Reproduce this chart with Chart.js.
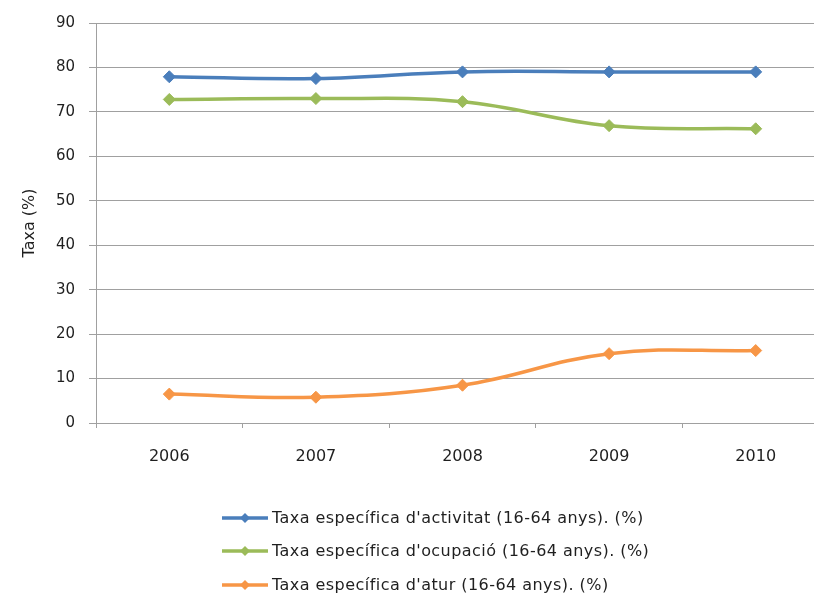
<!DOCTYPE html>
<html>
<head>
<meta charset="utf-8">
<script src="https://cdn.jsdelivr.net/npm/chart.js@4/dist/chart.umd.min.js"></script>
<style>
  html, body { margin: 0; padding: 0; background: #fff; overflow: hidden; }
  #wrap { position: relative; width: 836px; height: 601px; }
</style>
</head>
<body>
<div id="wrap"><canvas id="c" width="836" height="601"></canvas></div>
<script>
const categories = ['2006', '2007', '2008', '2009', '2010'];
const activitat = [77.9, 77.5, 79.0, 79.0, 79.0];
const ocupacio = [72.8, 73.0, 72.3, 66.9, 66.2];
const atur = [6.5, 5.8, 8.5, 15.6, 16.3];
const seriesNames = [
  "Taxa específica d'activitat (16-64 anys). (%)",
  "Taxa específica d'ocupació (16-64 anys). (%)",
  "Taxa específica d'atur (16-64 anys). (%)"
];
const yTicks = [0, 10, 20, 30, 40, 50, 60, 70, 80, 90];
const yTitle = 'Taxa (%)';

const colors = ['#4A7EBB', '#9BBB59', '#F79646'];
const FONT = "'DejaVu Sans', sans-serif";
const TXT = '#1f1f1f';
const GRID = '#a0a0a0';

function ds(label, data, color) {
  return {
    label, data,
    borderColor: color, backgroundColor: color,
    borderWidth: 3.5,
    pointStyle: 'rectRot', pointRadius: 6, pointHoverRadius: 6,
    pointBorderWidth: 1,
    tension: 0.4,
    fill: false
  };
}

const legendPlugin = {
  id: 'vlegend',
  afterDraw(chart) {
    const ctx = chart.ctx;
    const rows = [518, 551, 585];
    const x0 = 222, x1 = 268, tx = 272;
    ctx.save();
    chart.data.datasets.forEach((d, i) => {
      const y = rows[i];
      ctx.strokeStyle = d.borderColor;
      ctx.lineWidth = 3.5;
      ctx.beginPath(); ctx.moveTo(x0, y); ctx.lineTo(x1, y); ctx.stroke();
      ctx.fillStyle = d.borderColor;
      ctx.beginPath();
      const cx = (x0 + x1) / 2, r = 5;
      ctx.moveTo(cx, y - r); ctx.lineTo(cx + r, y); ctx.lineTo(cx, y + r); ctx.lineTo(cx - r, y);
      ctx.closePath(); ctx.fill();
      ctx.fillStyle = TXT;
      ctx.font = "16px " + FONT;
      if ('letterSpacing' in ctx) ctx.letterSpacing = '0.45px';
      ctx.textBaseline = 'middle';
      ctx.textAlign = 'left';
      ctx.fillText(d.label, tx, y + 1);
    });
    ctx.restore();
  }
};

new Chart(document.getElementById('c'), {
  type: 'line',
  data: {
    labels: categories,
    datasets: [
      ds(seriesNames[0], activitat, colors[0]),
      ds(seriesNames[1], ocupacio, colors[1]),
      ds(seriesNames[2], atur, colors[2])
    ]
  },
  options: {
    responsive: false,
    animation: false,
    layout: { padding: { left: 0, right: 0, top: 22, bottom: 118 } },
    plugins: { legend: { display: false }, tooltip: { enabled: false } },
    scales: {
      x: {
        offset: true,
        grid: { display: true, offset: true, drawOnChartArea: false, drawTicks: true, tickLength: 5, color: GRID },
        border: { color: GRID },
        ticks: { color: TXT, font: { family: FONT, size: 16 }, padding: 19, maxRotation: 0 },
        afterFit(s) { s.height = 60; }
      },
      y: {
        min: 0, max: 90,
        afterBuildTicks(s) { s.ticks = yTicks.map(v => ({ value: v })); },
        grid: { color: GRID, tickLength: 7 },
        border: { color: GRID },
        ticks: { color: TXT, font: { family: FONT, size: 15 }, padding: 14 },
        title: { display: true, text: yTitle, color: TXT, font: { family: FONT, size: 16 }, padding: { top: 20, bottom: 0 } },
        afterFit(s) { s.width = 96; }
      }
    }
  },
  plugins: [legendPlugin]
});
</script>
</body>
</html>
